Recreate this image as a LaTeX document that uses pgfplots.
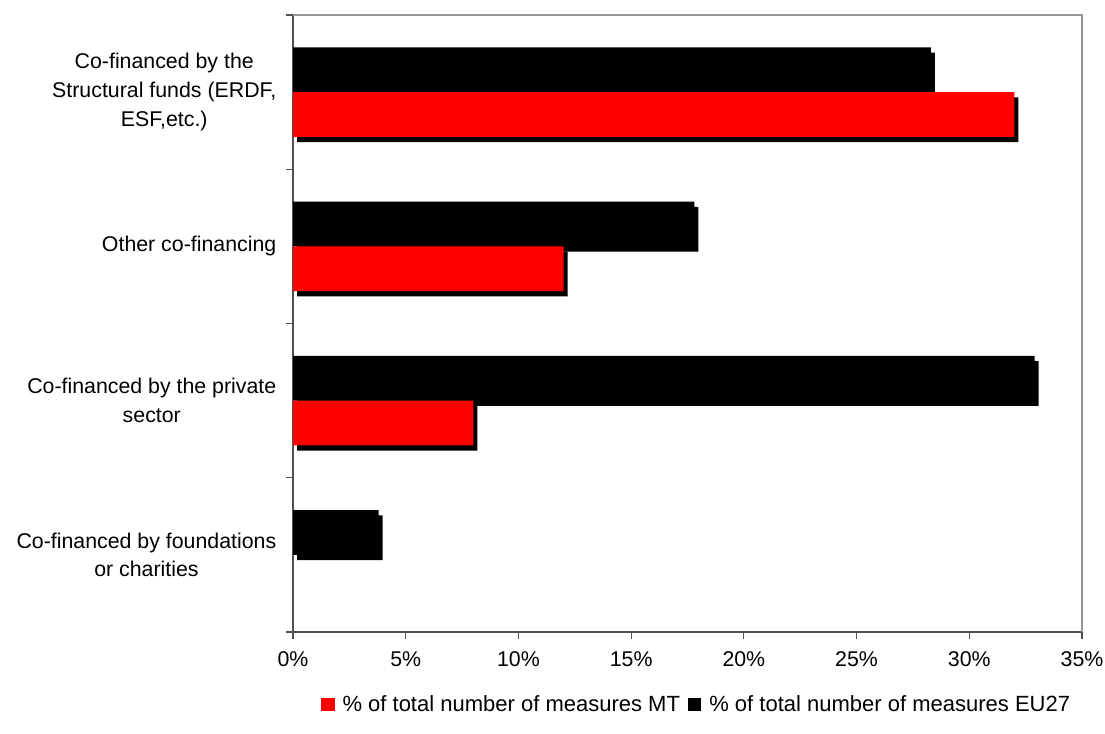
\documentclass[border=0pt]{standalone}
\usepackage{pgfplots}
\pgfplotsset{compat=1.18}
\usepackage{fontspec}
\setmainfont{Liberation Sans}
\definecolor{axgray}{RGB}{80,80,80}
\definecolor{framegray}{RGB}{150,150,150}
\begin{document}
\begin{tikzpicture}
\path[use as bounding box] (0,0) rectangle (828.75pt,549.75pt);
\begin{axis}[
  at={(219.75pt,75.75pt)}, anchor=south west,
  scale only axis, width=591.75pt, height=462.75pt,
  xmin=0, xmax=35, ymin=-0.5, ymax=3.5,
  axis x line*=bottom, axis y line*=left,
  axis line style={-, draw=axgray, line width=1.3pt},
  xtick={0,5,10,15,20,25,30,35},
  xticklabels={0\%,5\%,10\%,15\%,20\%,25\%,30\%,35\%},
  tick align=outside,
  major tick length=5pt, minor tick length=5pt,
  tick style={draw=axgray, line width=0.9pt},
  ytick={0,1,2,3},
  yticklabels={{Co-financed by foundations\\or charities},{Co-financed by the private\\sector},{Other co-financing},{Co-financed by the\\Structural funds (ERDF,\\ESF,etc.)}},
  minor ytick={-0.5,0.5,1.5,2.5,3.5},
  every major y tick/.style={draw=none},
  yticklabel style={align=center, font=\fontsize{16}{21.5}\selectfont, xshift=-4pt},
  xticklabel style={font=\fontsize{16}{19}\selectfont, yshift=-6pt},
  xbar, bar width=0.29,
  legend style={at={(0.512,-0.118)}, anchor=center, draw=none, fill=none,
    font=\fontsize{16.5}{19}\selectfont, legend columns=2,
    /tikz/every even column/.append style={column sep=4pt}},
  legend cell align=left,
  clip=false,
]
% shadow for EU27
\addplot[fill=black, draw=none, bar shift=0.145, forget plot, xshift=3pt, yshift=-4pt]
  coordinates {(28.3,3) (17.8,2) (32.9,1) (3.8,0)};
% EU27
\addplot[fill=black, draw=none, bar shift=0.145, forget plot]
  coordinates {(28.3,3) (17.8,2) (32.9,1) (3.8,0)};
% shadow for MT
\addplot[fill=black, draw=none, bar shift=-0.145, forget plot, xshift=3pt, yshift=-4pt]
  coordinates {(32.0,3) (12.0,2) (8.0,1)};
% MT
\addplot[fill=red, draw=none, bar shift=-0.145, forget plot]
  coordinates {(32.0,3) (12.0,2) (8.0,1)};
\addlegendimage{legend image code/.code={\fill[red, draw=none] (0pt,-5pt) rectangle (10pt,5pt); \path[draw=none, fill=none] (0pt,0pt) -- (14pt,0pt);}}
\addlegendentry{\% of total number of measures MT}
\addlegendimage{legend image code/.code={\fill[black, draw=none] (0pt,-5pt) rectangle (10pt,5pt); \path[draw=none, fill=none] (0pt,0pt) -- (14pt,0pt);}}
\addlegendentry{\% of total number of measures EU27}
\draw[framegray, line width=1.3pt] (rel axis cs:0,1) -- (rel axis cs:1,1) -- (rel axis cs:1,0);
\end{axis}
\end{tikzpicture}
\end{document}
